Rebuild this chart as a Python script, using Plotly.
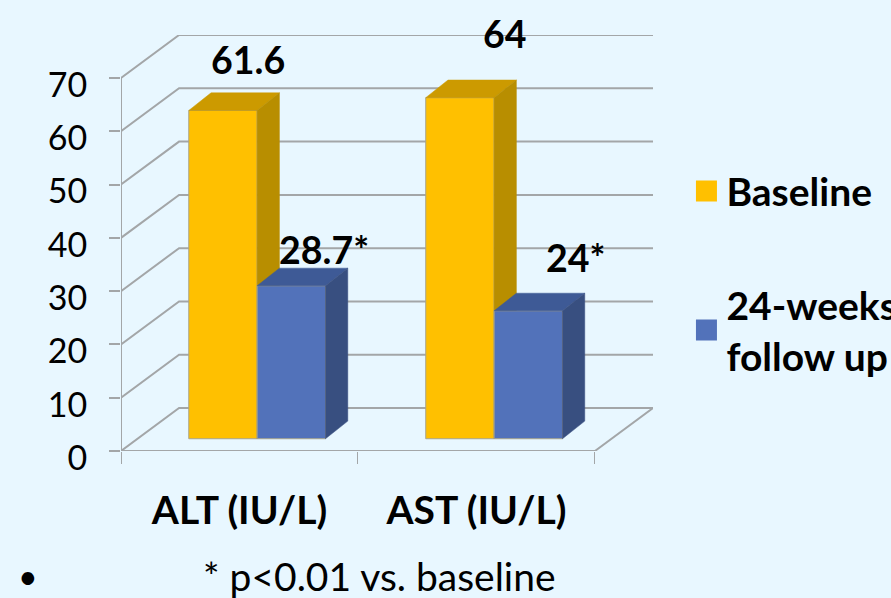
import plotly.graph_objects as go

categories = ["ALT (IU/L)", "AST (IU/L)"]
baseline = [61.6, 64]
follow_up = [28.7, 24]
series_names = ["Baseline", "24-weeks<br>follow up"]
value_labels_base = ["61.6", "64"]
value_labels_follow = ["28.7*", "24*"]
y_ticks = [0, 10, 20, 30, 40, 50, 60, 70]

# styling / projection
BG = "#e8f7ff"
GRID = "#a3a6a8"
YEL, YEL_TOP, YEL_SIDE = "#ffc000", "#cc9a00", "#b88e00"
BLU, BLU_TOP, BLU_SIDE = "#5272ba", "#3e5a96", "#384f80"
WALL_DX, WALL_DY = 0.245, 8.06
BAR_DX, BAR_DY = 0.094, 3.31
FLOOR = 2.3
BAR_W = 0.2885
BAR_START = 0.286
XMAX = 2 + WALL_DX
YMAX = 70 + WALL_DY
FONT = "Lato"
W, H = 891, 598
L, R, T, B = 120.7, W - 653.5, 34.5, H - 451.5
pw, ph = W - L - R, H - T - B


def px(v):
    return (v - L) / pw


def py(v):
    return (H - B - v) / ph


fig = go.Figure()

# back wall, side wall, floor
for v in y_ticks:
    fig.add_trace(go.Scatter(x=[0, WALL_DX, XMAX], y=[v, v + WALL_DY, v + WALL_DY], mode="lines",
                             line=dict(color=GRID, width=2), showlegend=False, hoverinfo="skip",
                             xaxis="x", yaxis="y"))
fig.add_trace(go.Scatter(x=[0, 0], y=[0, y_ticks[-1]], mode="lines", line=dict(color=GRID, width=2),
                         showlegend=False, hoverinfo="skip", xaxis="x", yaxis="y"))
fig.add_trace(go.Scatter(x=[0, 2, XMAX], y=[0, 0, WALL_DY], mode="lines", line=dict(color=GRID, width=2),
                         showlegend=False, hoverinfo="skip", xaxis="x", yaxis="y"))


def add_series(values, left_shift, front, top, side, name, xa, ya):
    xs = [i + BAR_START + left_shift for i in range(len(values))]
    fig.add_trace(go.Bar(x=xs, y=values, base=FLOOR, width=BAR_W, offset=0,
                         marker=dict(color=front, line=dict(color="#a8a48c", width=1)),
                         name=name, legendgroup=name, showlegend=False, xaxis=xa, yaxis=ya))
    for x0, v in zip(xs, values):
        h = FLOOR + v
        x1 = x0 + BAR_W
        fig.add_trace(go.Scatter(x=[x0, x1, x1 + BAR_DX, x0 + BAR_DX, x0],
                                 y=[h, h, h + BAR_DY, h + BAR_DY, h],
                                 fill="toself", fillcolor=top, mode="lines", line=dict(color=top, width=0.5),
                                 legendgroup=name, showlegend=False, hoverinfo="skip", xaxis=xa, yaxis=ya))
        fig.add_trace(go.Scatter(x=[x1, x1 + BAR_DX, x1 + BAR_DX, x1, x1],
                                 y=[FLOOR, FLOOR + BAR_DY, h + BAR_DY, h, FLOOR],
                                 fill="toself", fillcolor=side, mode="lines", line=dict(color=side, width=0.5),
                                 legendgroup=name, showlegend=False, hoverinfo="skip", xaxis=xa, yaxis=ya))
    # legend swatch
    fig.add_trace(go.Scatter(x=[None], y=[None], mode="markers", name=name, legendgroup=name,
                             marker=dict(symbol="square", size=16, color=front, line=dict(color=front, width=5)),
                             xaxis=xa, yaxis=ya))


add_series(baseline, 0, YEL, YEL_TOP, YEL_SIDE, series_names[0], "x2", "y2")
add_series(follow_up, BAR_W, BLU, BLU_TOP, BLU_SIDE, series_names[1], "x3", "y3")

# value labels (pixel nudges from the top of each bar)
label_shift = {"61.6": (25, 51), "64": (45, 64), "28.7*": (33, 36), "24*": (47, 53)}
for i, (v, t) in enumerate(zip(baseline, value_labels_base)):
    sx, sy = label_shift[t]
    fig.add_annotation(x=i + BAR_START + BAR_W / 2, y=FLOOR + v, text=f"<b>{t}</b>", showarrow=False,
                       xshift=sx, yshift=sy, font=dict(family=FONT, size=37.5, color="black"),
                       xref="x3", yref="y3")
for i, (v, t) in enumerate(zip(follow_up, value_labels_follow)):
    sx, sy = label_shift[t]
    fig.add_annotation(x=i + BAR_START + BAR_W * 1.5, y=FLOOR + v, text=f"<b>{t}</b>", showarrow=False,
                       xshift=sx, yshift=sy, font=dict(family=FONT, size=37.5, color="black"),
                       xref="x3", yref="y3")

# footnote
fig.add_annotation(x=px(28), y=py(576), xref="paper", yref="paper", text="•", showarrow=False,
                   xanchor="center", yanchor="middle", font=dict(family=FONT, size=34, color="black"))
fig.add_annotation(x=px(380), y=py(577), xref="paper", yref="paper", text="* p&lt;0.01 vs. baseline", showarrow=False,
                   xanchor="center", yanchor="middle", font=dict(family=FONT, size=39, color="black"))

hidden = dict(visible=False, fixedrange=True)
fig.update_layout(
    width=W, height=H, paper_bgcolor=BG, plot_bgcolor=BG, barmode="overlay",
    margin=dict(l=L, r=R, t=T, b=B, pad=0, autoexpand=False),
    showlegend=True,
    legend=dict(x=px(687), y=py(159), xanchor="left", yanchor="top", bgcolor="rgba(0,0,0,0)",
                font=dict(family=FONT, size=39, color="black", weight="bold"),
                tracegroupgap=60, itemwidth=30),
    xaxis=dict(range=[0, XMAX], tickmode="array", tickvals=[0.5, 1.5], ticktext=[f"<b>{c}</b>" for c in categories],
               ticks="", showgrid=False, zeroline=False, showline=False, ticklabelstandoff=33,
               tickfont=dict(family=FONT, size=39, color="black"),
               minor=dict(tickmode="array", tickvals=[0, 1, 2], ticks="outside", ticklen=12, tickwidth=1, tickcolor=GRID, showgrid=False)),
    yaxis=dict(range=[0, YMAX], tickmode="array", tickvals=y_ticks, ticks="outside", ticklen=11, tickwidth=1.5,
               tickcolor=GRID, showgrid=False, zeroline=False, showline=False, ticklabelstandoff=15, ticklabelshift=7,
               tickfont=dict(family=FONT, size=34, color="black")),
    xaxis2=dict(range=[0, XMAX], overlaying="x", **hidden),
    yaxis2=dict(range=[0, YMAX], overlaying="y", **hidden),
    xaxis3=dict(range=[0, XMAX], overlaying="x", **hidden),
    yaxis3=dict(range=[0, YMAX], overlaying="y", **hidden),
)
fig.write_html("out.html", config={"displayModeBar": False},
               post_script="document.body.style.margin='0';document.documentElement.style.overflow='hidden';document.body.style.background='" + BG + "';")
